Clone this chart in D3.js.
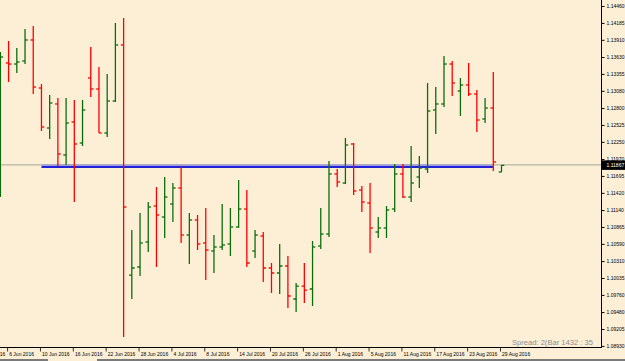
<!DOCTYPE html>
<html>
<head>
<meta charset="utf-8">
<script src="https://cdn.jsdelivr.net/npm/d3@7"></script>
<style>
body { margin: 0; background: #fdefd6; overflow: hidden; }
svg { display: block; }
text { font-family: 'Liberation Sans', Arial, sans-serif; }
</style>
</head>
<body>
<div id="graph-container"></div>
<script>
// DATA (EURUSD daily bars)
const dates = ['3 Jun 2016', '6 Jun 2016', '7 Jun 2016', '8 Jun 2016', '9 Jun 2016', '10 Jun 2016',
    '13 Jun 2016', '14 Jun 2016', '15 Jun 2016', '16 Jun 2016', '17 Jun 2016',
    '20 Jun 2016', '21 Jun 2016', '22 Jun 2016', '23 Jun 2016', '24 Jun 2016',
    '27 Jun 2016', '28 Jun 2016', '29 Jun 2016', '30 Jun 2016', '1 Jul 2016',
    '4 Jul 2016', '5 Jul 2016', '6 Jul 2016', '7 Jul 2016', '8 Jul 2016',
    '11 Jul 2016', '12 Jul 2016', '13 Jul 2016', '14 Jul 2016', '15 Jul 2016',
    '18 Jul 2016', '19 Jul 2016', '20 Jul 2016', '21 Jul 2016', '22 Jul 2016',
    '25 Jul 2016', '26 Jul 2016', '27 Jul 2016', '28 Jul 2016', '29 Jul 2016',
    '1 Aug 2016', '2 Aug 2016', '3 Aug 2016', '4 Aug 2016', '5 Aug 2016',
    '8 Aug 2016', '9 Aug 2016', '10 Aug 2016', '11 Aug 2016', '12 Aug 2016',
    '15 Aug 2016', '16 Aug 2016', '17 Aug 2016', '18 Aug 2016', '19 Aug 2016',
    '22 Aug 2016', '23 Aug 2016', '24 Aug 2016', '25 Aug 2016', '26 Aug 2016',
    '29 Aug 2016']

const opens = [1.11548, 1.13533, 1.13516, 1.13565, 1.13907, 1.13126,
    1.12475, 1.12866, 1.12036, 1.12573, 1.12231,
    1.13289, 1.13110, 1.12394, 1.12914, 1.13826,
    1.10083, 1.10214, 1.10620, 1.11206, 1.11027,
    1.11239, 1.11499, 1.10734, 1.10978, 1.10604,
    1.10474, 1.10539, 1.10588, 1.10864, 1.11157,
    1.10474, 1.10718, 1.10197, 1.10116, 1.10230,
    1.09693, 1.09904, 1.09856, 1.10555, 1.10750,
    1.11727, 1.11580, 1.12215, 1.11466, 1.11255,
    1.10783, 1.10848, 1.11157, 1.11727, 1.11352,
    1.11678, 1.11808, 1.12768, 1.12866, 1.13516,
    1.13077, 1.13175, 1.13028, 1.12621, 1.12800,
    1.11759]

const highs = [1.13712, 1.13891, 1.13777, 1.14086, 1.14135, 1.13191,
    1.13012, 1.12963, 1.12963, 1.12931, 1.12931,
    1.13793, 1.13468, 1.13354, 1.14183, 1.14265,
    1.10816, 1.11092, 1.11271, 1.11515, 1.11678,
    1.11580, 1.11841, 1.11092, 1.11060, 1.11174,
    1.10734, 1.11239, 1.11174, 1.11629, 1.11466,
    1.10816, 1.10783, 1.10279, 1.10588, 1.10393,
    1.09953, 1.10279, 1.10637, 1.11174, 1.11938,
    1.11808, 1.12312, 1.12231, 1.11531, 1.11580,
    1.11027, 1.11206, 1.11889, 1.11889, 1.12182,
    1.12020, 1.13207, 1.13142, 1.13647, 1.13565,
    1.13289, 1.13533, 1.13093, 1.12963, 1.13386,
    1.11873]

const lows = [1.11352, 1.13224, 1.13370, 1.13516, 1.13028, 1.12426,
    1.12296, 1.11857, 1.11873, 1.11271, 1.12182,
    1.12979, 1.12394, 1.12329, 1.12898, 1.09075,
    1.09693, 1.10067, 1.10458, 1.10214, 1.10685,
    1.10946, 1.10604, 1.10262, 1.10490, 1.10002,
    1.10116, 1.10490, 1.10393, 1.10848, 1.10214,
    1.10360, 1.09970, 1.09791, 1.09774, 1.09547,
    1.09481, 1.09628, 1.09579, 1.10506, 1.10702,
    1.11515, 1.11564, 1.11385, 1.11108, 1.10441,
    1.10685, 1.10685, 1.11108, 1.11336, 1.11271,
    1.11499, 1.11743, 1.12377, 1.12817, 1.12996,
    1.12670, 1.12996, 1.12410, 1.12556, 1.11775,
    1.11759]

const closes = [1.13630, 1.13516, 1.13549, 1.13907, 1.13142, 1.12491,
    1.12882, 1.12052, 1.12556, 1.12215, 1.12768,
    1.13110, 1.12394, 1.12914, 1.13826, 1.11190,
    1.10197, 1.10604, 1.11190, 1.11060, 1.11352,
    1.11499, 1.10734, 1.10978, 1.10588, 1.10490,
    1.10539, 1.10572, 1.10864, 1.11157, 1.10279,
    1.10734, 1.10197, 1.10116, 1.10230, 1.09742,
    1.09904, 1.09839, 1.10539, 1.10750, 1.11727,
    1.11597, 1.12199, 1.11450, 1.11271, 1.10848,
    1.10848, 1.11141, 1.11727, 1.11352, 1.11580,
    1.11824, 1.12752, 1.12866, 1.13516, 1.13207,
    1.13175, 1.13028, 1.12605, 1.12800, 1.11922,
    1.11867]

const priceTicks = [1.14460, 1.14185, 1.13910, 1.13630, 1.13355, 1.13080, 1.12800,
    1.12525, 1.12250, 1.11970, 1.11695, 1.11420, 1.11140, 1.10865, 1.10590,
    1.10310, 1.10035, 1.09760, 1.09480, 1.09205, 1.08930]

const dateTicks = ['31 May 2016', '6 Jun 2016', '10 Jun 2016', '16 Jun 2016', '22 Jun 2016',
    '28 Jun 2016', '4 Jul 2016', '8 Jul 2016', '14 Jul 2016', '20 Jul 2016',
    '26 Jul 2016', '1 Aug 2016', '5 Aug 2016', '11 Aug 2016', '17 Aug 2016',
    '23 Aug 2016', '29 Aug 2016']

const bidPrice = 1.11867
const levelPrice = 1.11841
const levelFrom = '10 Jun 2016'
const levelTo = '26 Aug 2016'
const infoText = 'Spread: 2(Bar  1432 : 35'

// SETTINGS
const width = 625
const height = 361
const axisX = 601
const axisY = 347.5
const colors = { up: '#0b6e0b', down: '#ff0000', bid: '#a3a89c', level: '#2222d6' }

// HELPERS
const parseDate = d3.timeParse('%d %b %Y')
const origin = parseDate('6 Jun 2016')
const isWeekday = t => t.getDay() !== 0 && t.getDay() !== 6

function tradingIndex(label) {
    const t = parseDate(label)
    if (t >= origin) return d3.timeDays(origin, t).filter(isWeekday).length
    return -d3.timeDays(t, origin).filter(isWeekday).length
}

const bars = dates.map((d, i) => ({
    date: d, idx: tradingIndex(d),
    open: opens[i], high: highs[i], low: lows[i], close: closes[i]
}))

// SCALES
const x = d3.scaleLinear().domain([0, 60]).range([8.6, 501.5])
const y = d3.scaleLinear().domain([1.08930, 1.14460]).range([345.9, 6])

const svg = d3.select('#graph-container').append('svg')
    .attr('width', width)
    .attr('height', height)

svg.append('rect').attr('width', width).attr('height', height).attr('fill', '#fdefd6')

const plot = svg.append('g')
svg.append('clipPath').attr('id', 'plot-clip')
    .append('rect').attr('x', 0).attr('y', 0).attr('width', axisX).attr('height', axisY)
plot.attr('clip-path', 'url(#plot-clip)')

// bid line
plot.append('line')
    .attr('x1', 0).attr('x2', axisX)
    .attr('y1', y(bidPrice) - 0.5).attr('y2', y(bidPrice) - 0.5)
    .attr('stroke', colors.bid).attr('stroke-width', 1)

// horizontal level line
plot.append('line')
    .attr('x1', x(tradingIndex(levelFrom))).attr('x2', x(tradingIndex(levelTo)))
    .attr('y1', y(levelPrice) - 1.8).attr('y2', y(levelPrice) - 1.8)
    .attr('stroke', '#8f8fe6').attr('stroke-width', 1.2)
plot.append('line')
    .attr('x1', x(tradingIndex(levelFrom))).attr('x2', x(tradingIndex(levelTo)))
    .attr('y1', y(levelPrice)).attr('y2', y(levelPrice))
    .attr('stroke', colors.level).attr('stroke-width', 2)

// OHLC bars
const barGroups = plot.selectAll('.bar')
    .data(bars)
    .enter().append('g')
    .attr('class', 'bar')
    .attr('stroke', d => d.close >= d.open ? colors.up : colors.down)
    .attr('stroke-width', 1.3)

barGroups.append('line')
    .attr('x1', d => x(d.idx)).attr('x2', d => x(d.idx))
    .attr('y1', d => y(d.high)).attr('y2', d => y(d.low))

barGroups.append('line')
    .attr('x1', d => x(d.idx) - 2.8).attr('x2', d => x(d.idx))
    .attr('y1', d => y(d.open)).attr('y2', d => y(d.open))

barGroups.append('line')
    .attr('x1', d => x(d.idx)).attr('x2', d => x(d.idx) + 2.8)
    .attr('y1', d => y(d.close)).attr('y2', d => y(d.close))

// right price axis
svg.append('line')
    .attr('x1', axisX + 0.5).attr('x2', axisX + 0.5)
    .attr('y1', 0).attr('y2', axisY)
    .attr('stroke', '#000').attr('stroke-width', 1)

const yAxis = d3.axisRight(y)
    .tickValues(priceTicks)
    .tickFormat(d3.format('.5f'))
    .tickSize(3)
    .tickPadding(2)

const yAxisG = svg.append('g')
    .attr('transform', `translate(${axisX + 0.5}, 0)`)
    .call(yAxis)
yAxisG.select('.domain').remove()
yAxisG.selectAll('text').attr('font-size', 5).attr('fill', '#000')
    .style('font-family', "'Liberation Sans', Arial, sans-serif")

// bid label
svg.append('rect')
    .attr('x', axisX + 1).attr('y', y(bidPrice) - 5)
    .attr('width', width - axisX - 1).attr('height', 9.5)
    .attr('fill', '#000')
svg.append('text')
    .attr('x', axisX + 5.5).attr('y', y(bidPrice) + 1.8)
    .attr('font-size', 5).attr('fill', '#fff')
    .text(d3.format('.5f')(bidPrice))

// bottom time axis
svg.append('line')
    .attr('x1', 0).attr('x2', axisX + 1)
    .attr('y1', axisY).attr('y2', axisY)
    .attr('stroke', '#000').attr('stroke-width', 1)

const timeTicks = svg.append('g').selectAll('.time-tick')
    .data(dateTicks)
    .enter().append('g')
    .attr('class', 'time-tick')
    .attr('transform', d => `translate(${x(tradingIndex(d)) - 1}, 0)`)

timeTicks.append('line')
    .attr('x1', 0).attr('x2', 0)
    .attr('y1', axisY).attr('y2', axisY + 4)
    .attr('stroke', '#000').attr('stroke-width', 0.8)

timeTicks.append('text')
    .attr('x', 1.6).attr('y', 355.5)
    .attr('font-size', 5).attr('fill', '#000')
    .text(d => d)

// info text
svg.append('text')
    .attr('x', 593).attr('y', 345)
    .attr('text-anchor', 'end')
    .attr('font-size', 7.6).attr('fill', '#8d8d8d')
    .text(infoText)

// bottom tab strip
svg.append('rect').attr('x', 0).attr('y', 359).attr('width', 48).attr('height', 2).attr('fill', '#7a7a7a')
svg.append('rect').attr('x', 97).attr('y', 359).attr('width', width - 97).attr('height', 2).attr('fill', '#7a7a7a')
</script>
</body>
</html>
